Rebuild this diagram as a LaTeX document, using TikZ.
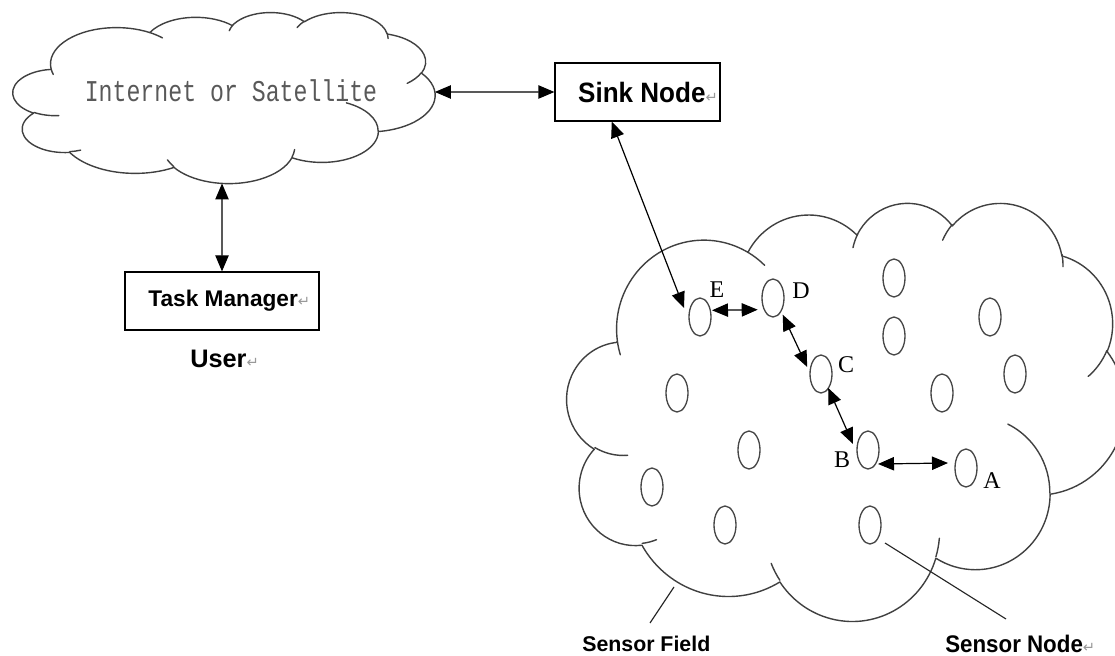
\documentclass[tikz,border=0pt]{standalone}
\usepackage{fontspec}
\usepackage{graphicx}
\usetikzlibrary{arrows.meta,shapes.geometric,calc}
\setmainfont{Liberation Serif}
\newfontfamily\monofnt{Liberation Mono}
\newfontfamily\heifnt{Liberation Sans}
\newfontfamily\symfnt{DejaVu Sans}
\newcommand\retmk{{\symfnt\fontsize{11}{11}\selectfont\color{black!40}↵}}
\newcommand\wordcloudshape{%
  \draw[cloudline] (9.028,33.264)
    arc[start angle=172.254, delta angle=128.12, x radius=15.632, y radius=21.273]
    arc[start angle=-152.02, delta angle=106.56, x radius=12.345, y radius=16.822]
    arc[start angle=-153.50, delta angle=116.15, x radius=10.104, y radius=13.762]
    arc[start angle=-139.71, delta angle=129.50, x radius=11.243, y radius=15.266]
    arc[start angle=-74.77, delta angle=97.98, x radius=12.345, y radius=16.836]
    arc[start angle=-37.52, delta angle=119.38, x radius=15.683, y radius=21.343]
    arc[start angle=0.46, delta angle=121.52, x radius=13.391, y radius=18.211]
    arc[start angle=16.84, delta angle=129.37, x radius=15.630, y radius=21.331]
    arc[start angle=58.98, delta angle=91.21, x radius=17.870, y radius=24.405]
    arc[start angle=83.31, delta angle=139.80, x radius=10.093, y radius=13.699]
    arc[start angle=120.36, delta angle=143.75, x radius=10.058, y radius=13.762]
    -- cycle;
  \draw[cloudline] (10.863,60.595) arc[start angle=85.55, delta angle=34.81, x radius=10.058, y radius=13.762];
  \draw[cloudline] (16.037,80.785) arc[start angle=68.24, delta angle=15.07, x radius=10.093, y radius=13.699];
  \draw[cloudline] (38.144,90.486) arc[start angle=146.21, delta angle=12.26, x radius=15.630, y radius=21.331];
  \draw[cloudline] (66.729,80.442) arc[start angle=4.74, delta angle=12.10, x radius=15.630, y radius=21.331];
  \draw[cloudline] (79.002,53.134) arc[start angle=-64.03, delta angle=64.49, x radius=13.391, y radius=18.211];
  \draw[cloudline] (96.755,35.542) arc[start angle=23.21, delta angle=26.42, x radius=12.345, y radius=16.836];
  \draw[cloudline] (88.713,12.560) arc[start angle=-10.21, delta angle=11.03, x radius=11.243, y radius=15.266];
  \draw[cloudline] (67.310,9.148) arc[start angle=-156.29, delta angle=16.58, x radius=11.243, y radius=15.266];
  \draw[cloudline] (51.252,10.926) arc[start angle=-167.72, delta angle=14.22, x radius=10.104, y radius=13.762];
  \draw[cloudline] (32.407,12.019) arc[start angle=-59.63, delta angle=13.91, x radius=15.632, y radius=21.273];
  \draw[cloudline] (9.553,36.549) arc[start angle=163.20, delta angle=9.05, x radius=15.632, y radius=21.273];
}
\begin{document}
\begin{tikzpicture}[x=0.75pt,y=-0.75pt,
  cloudline/.style={draw=black!75, line width=1.05pt, line join=round, line cap=round},
  boxnode/.style={draw=black, line width=0.9pt, rectangle, inner sep=0pt},
  sensor/.style={ellipse, draw=black!72, line width=1pt, minimum width=16.5pt, minimum height=28.5pt, inner sep=0pt},
  lbl/.style={inner sep=0pt, font=\fontsize{18}{18}\selectfont, text=black},
  dbl/.style={{Triangle[length=12pt,width=10pt]}-{Triangle[length=12pt,width=10pt]}, line width=0.9pt, black},
  lead/.style={line width=0.85pt, black!85}]
\useasboundingbox (0,0) rectangle (1115,656);
\clip (0,0) rectangle (1115,656);

% top cloud
\begin{scope}[shift={(13,12)}, xscale=4.22, yscale=1.71]
  \wordcloudshape
  \coordinate (netE) at (99.97,46.78);
  \coordinate (netS) at (49.53,100.25);
\end{scope}
\node[inner sep=0pt, text=black!65] (nettext) at (231,91)
  {\scalebox{1}[1.3]{\monofnt\fontsize{17.4}{17.4}\selectfont Internet or Satellite}};

% sensor field cloud
\begin{scope}[shift={(567,202)}, xscale=5.58, yscale=4.18]
  \wordcloudshape
\end{scope}

% boxes
\node[boxnode, minimum width=123.75pt, minimum height=43.5pt] (sink) at (637.5,92)
  {\hspace*{15.75pt}\scalebox{0.93}[1]{\heifnt\bfseries\fontsize{21}{21}\selectfont Sink Node}\retmk};
\node[boxnode, minimum width=145.5pt, minimum height=43.5pt] (task) at (222,301)
  {\hspace*{11pt}{\heifnt\bfseries\fontsize{17}{17}\selectfont Task Manager}\retmk};
\node[inner sep=0pt, anchor=west] (user) at (190,359)
  {{\heifnt\bfseries\fontsize{19}{19}\selectfont User}\retmk};

% sensor nodes
\node[sensor] (sE) at (700,317) {};
\node[sensor] (sD) at (773,298) {};
\node[sensor] (sC) at (821,374) {};
\node[sensor] (sB) at (868,450) {};
\node[sensor] (sA) at (966,468) {};
\node[sensor] (s1) at (894,278) {};
\node[sensor] (s2) at (894,336) {};
\node[sensor] (s3) at (990,317) {};
\node[sensor] (s4) at (1015,374) {};
\node[sensor] (s5) at (942,393) {};
\node[sensor] (s6) at (677,393) {};
\node[sensor] (s7) at (749,450) {};
\node[sensor] (s8) at (652,487) {};
\node[sensor] (s9) at (725,525) {};
\node[sensor] (s10) at (870,525) {};

% letters
\node[lbl] (lE) at (717,290) {E};
\node[lbl] (lD) at (801,291) {D};
\node[lbl] (lC) at (846,365) {C};
\node[lbl] (lB) at (842,460) {B};
\node[lbl] (lA) at (992,481) {A};

% bottom labels
\node[inner sep=0pt, anchor=west] (sfl) at (582,644)
  {\heifnt\bfseries\fontsize{16}{16}\selectfont Sensor Field};
\node[inner sep=0pt, anchor=west] (snl) at (945,644)
  {\scalebox{0.93}[1]{\heifnt\bfseries\fontsize{18}{18}\selectfont Sensor Node}\retmk};

% connectors
\draw[dbl] (netE) -- (sink.west);
\draw[dbl] (netS) -- (task.north);
\draw[dbl] (sink.-131) -- ([shift={(-16,-9)}]sE.center);
\draw[dbl] ([shift={(12,-6.7)}]sE.center) -- ([shift={(-15.3,11.7)}]sD.center);
\draw[dbl] ([shift={(9.7,16.7)}]sD.center) -- ([shift={(-13.8,-7)}]sC.center);
\draw[dbl] ([shift={(7.2,14)}]sC.center) -- ([shift={(-15,-6)}]sB.center);
\draw[dbl] ([shift={(10,14)}]sB.center) -- ([shift={(-18,-5)}]sA.center);

% leader lines
\coordinate (sfA) at (674,587);
\coordinate (sfB) at (650,623);
\coordinate (snB) at (1006,619);
\draw[lead] (sfA) -- (sfB);
\draw[lead] ([shift={(15,18)}]s10.center) -- (snB);
\end{tikzpicture}
\end{document}
